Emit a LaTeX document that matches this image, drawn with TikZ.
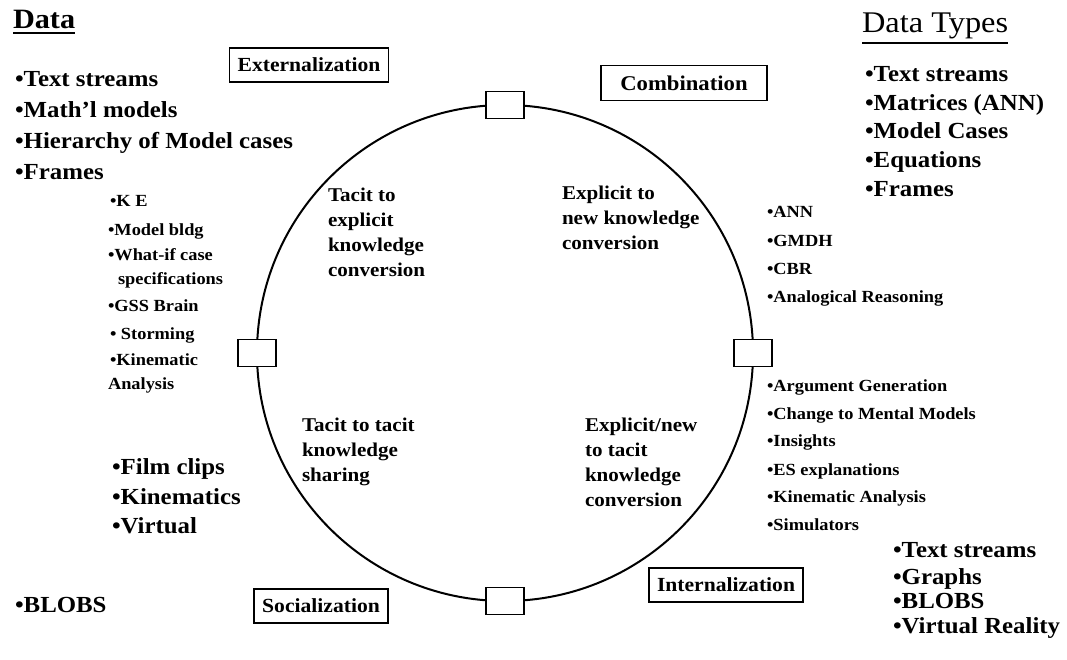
\documentclass[tikz,border=0pt]{standalone}
\usepackage{fontspec}
\setmainfont{Liberation Serif}[FakeStretch=1.08]
\begin{document}
\begin{tikzpicture}[x=1pt,y=-1pt,
  every node/.style={inner sep=0pt, outer sep=0pt},
  headA/.style={anchor=base west, font=\fontsize{28}{32}\selectfont\bfseries},
  headB/.style={anchor=base west, font=\fontsize{30}{34}\selectfont},
  biglist/.style={anchor=base west, font=\fontsize{23}{27}\selectfont\bfseries},
  smalllist/.style={anchor=base west, font=\fontsize{17}{20}\selectfont\bfseries},
  phase/.style={anchor=base west, align=left, font=\fontsize{19.5}{25}\selectfont\bfseries},
  modebox/.style={draw, line width=1.6pt, fill=white, font=\fontsize{20}{24}\selectfont\bfseries, inner xsep=8pt, inner ysep=10pt},
  port/.style={draw, line width=1.8pt, fill=white, minimum width=38pt, minimum height=27pt},
  rule/.style={line width=1.5pt}
]
\useasboundingbox (0,0) rectangle (1067,659);

% knowledge cycle with its four ports
\node[draw, circle, line width=2pt, minimum size=496pt] (ring) at (505,353) {};
\node[port] (pN) at (ring.north) {};
\node[port] (pS) at (ring.south) {};
\node[port] (pW) at (ring.west) {};
\node[port] (pE) at (ring.east) {};

% headings
\node[headA] (hData) at (13,28) {Data};
\draw[rule] ([yshift=-5pt]hData.base west) -- ([yshift=-5pt]hData.base east);
\node[headB] (hTypes) at (862,32) {Data Types};
\draw[rule] ([yshift=-11pt]hTypes.base west) -- ([yshift=-11pt]hTypes.base east);

% mode boxes
\node[modebox] (mExt) at (309,65) {Externalization};
\node[modebox, font=\fontsize{21}{25}\selectfont\bfseries, minimum width=166pt] (mComb) at (684,83) {Combination};
\node[modebox] (mSoc) at (321,606) {Socialization};
\node[modebox] (mInt) at (726,585) {Internalization};

% phase descriptions inside the cycle (placed by their last line)
\node[phase] (tExp) at (328,276) {Tacit to\\explicit\\knowledge\\conversion};
\node[phase] (eNew) at (562,249) {Explicit to\\new knowledge\\conversion};
\node[phase] (tTac) at (302,481) {Tacit to tacit\\knowledge\\sharing};
\node[phase] (eTac) at (585,506) {Explicit/new\\to tacit\\knowledge\\conversion};

% data, top left
\node[biglist] (d1) at (15,86) {•Text streams};
\node[biglist] (d2) at (15,117) {•Math’l models};
\node[biglist] (d3) at (15,148) {•Hierarchy of Model cases};
\node[biglist] (d4) at (15,179) {•Frames};

% externalization methods
\node[smalllist] (x1) at (110,206) {•K E};
\node[smalllist] (x2) at (108,235) {•Model bldg};
\node[smalllist] (x3) at (108,260) {•What-if case};
\node[smalllist] (x3b) at (118,284) {specifications};
\node[smalllist] (x4) at (108,311) {•GSS Brain};
\node[smalllist] (x5) at (110,339) {• Storming};
\node[smalllist] (x6) at (110,365) {•Kinematic};
\node[smalllist] (x6b) at (108,389) {Analysis};

% data, bottom left
\node[biglist] (s1) at (112,474) {•Film clips};
\node[biglist] (s2) at (112,504) {•Kinematics};
\node[biglist] (s3) at (112,533) {•Virtual};
\node[biglist] (s4) at (15,612) {•BLOBS};

% data types, top right
\node[biglist] (t1) at (865,81) {•Text streams};
\node[biglist] (t2) at (865,110) {•Matrices (ANN)};
\node[biglist] (t3) at (865,138) {•Model Cases};
\node[biglist] (t4) at (865,167) {•Equations};
\node[biglist] (t5) at (865,196) {•Frames};

% combination methods
\node[smalllist] (c1) at (767,217) {•ANN};
\node[smalllist] (c2) at (767,246) {•GMDH};
\node[smalllist] (c3) at (767,274) {•CBR};
\node[smalllist] (c4) at (767,302) {•Analogical Reasoning};

% internalization methods
\node[smalllist] (i1) at (767,391) {•Argument Generation};
\node[smalllist] (i2) at (767,419) {•Change to Mental Models};
\node[smalllist] (i3) at (767,446) {•Insights};
\node[smalllist] (i4) at (767,475) {•ES explanations};
\node[smalllist] (i5) at (767,502) {•Kinematic Analysis};
\node[smalllist] (i6) at (767,530) {•Simulators};

% data types, bottom right
\node[biglist] (b1) at (893,557) {•Text streams};
\node[biglist] (b2) at (893,584) {•Graphs};
\node[biglist] (b3) at (893,608) {•BLOBS};
\node[biglist] (b4) at (893,633) {•Virtual Reality};
\end{tikzpicture}
\end{document}
